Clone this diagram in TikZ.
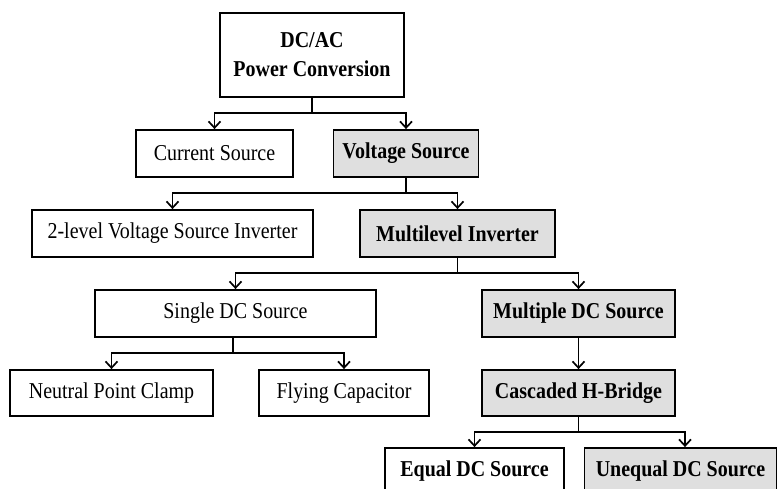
\documentclass[tikz,border=0pt]{standalone}
\usepackage{fontspec}
\setmainfont[FakeStretch=0.88]{Liberation Serif}
\usetikzlibrary{arrows.meta}
\tikzset{
  box/.style={draw, line width=1.8pt, inner sep=0pt, align=center,
    font=\fontsize{22.7}{29}\selectfont},
  gbox/.style={box, fill=gray!25, font=\fontsize{22.7}{29}\selectfont\bfseries},
  bbox/.style={box, font=\fontsize{22.7}{29}\selectfont\bfseries},
  arr/.style={line width=1.8pt, -{Straight Barb[length=6.5pt,width=12pt,line width=1.7pt]}},
  ln/.style={line width=1.8pt}
}
\begin{document}
\begin{tikzpicture}[x=1pt,y=-1pt]
\clip (0,0) rectangle (777,489);
\fill[white] (0,0) rectangle (777,489);
% level 0
\node[bbox, minimum width=184pt, minimum height=84pt] (top) at (312,55) {DC/AC\\Power Conversion};
% level 1
\node[box, minimum width=157pt, minimum height=47pt] (cur) at (214.5,153.5) {Current Source};
\node[gbox, minimum width=145pt, minimum height=47pt] (volt) at (406,153.5) {Voltage Source};
% level 2
\node[box, minimum width=281pt, minimum height=47pt] (vsi) at (172.5,233.5) {2-level Voltage Source Inverter};
\node[gbox, minimum width=195pt, minimum height=47pt] (mli) at (457.5,233.5) {Multilevel Inverter};
% level 3
\node[box, minimum width=281pt, minimum height=47pt] (sdc) at (235.5,313.5) {Single DC Source};
\node[gbox, minimum width=193pt, minimum height=47pt] (mdc) at (578.5,313.5) {Multiple DC Source};
% level 4
\node[box, minimum width=203pt, minimum height=46pt] (npc) at (111.5,393) {Neutral Point Clamp};
\node[box, minimum width=170pt, minimum height=46pt] (fc) at (344,393) {Flying Capacitor};
\node[gbox, minimum width=193pt, minimum height=46pt] (chb) at (578.5,393) {Cascaded H-Bridge};
% level 5
\node[bbox, minimum width=179pt, minimum height=47pt] (eq) at (474.5,471.5) {Equal DC Source};
\node[gbox, minimum width=192pt, minimum height=47pt] (uneq) at (680.5,471.5) {Unequal DC Source};
% connectors
\coordinate (j0) at (312,113);
\coordinate (j1) at (406,193);
\coordinate (j2) at (457.5,273);
\coordinate (j3) at (233,353);
\coordinate (j4) at (578.5,432);
\draw[ln] (top.south) -- (j0);
\draw[arr] (j0) -| (cur.north);
\draw[arr] (j0) -| (volt.north);
\draw[ln] (volt.south) -- (j1);
\draw[arr] (j1) -| (vsi.north);
\draw[arr] (j1) -| (mli.north);
\draw[ln] (mli.south) -- (j2);
\draw[arr] (j2) -| (sdc.north);
\draw[arr] (j2) -| (mdc.north);
\draw[ln] (sdc.south -| j3) -- (j3);
\draw[arr] (j3) -| (npc.north);
\draw[arr] (j3) -| (fc.north);
\draw[arr] (mdc.south) -- (chb.north);
\draw[ln] (chb.south) -- (j4);
\draw[arr] (j4) -| (eq.north);
\draw[arr] (j4) -| ([xshift=4.5pt]uneq.north);
\end{tikzpicture}
\end{document}
